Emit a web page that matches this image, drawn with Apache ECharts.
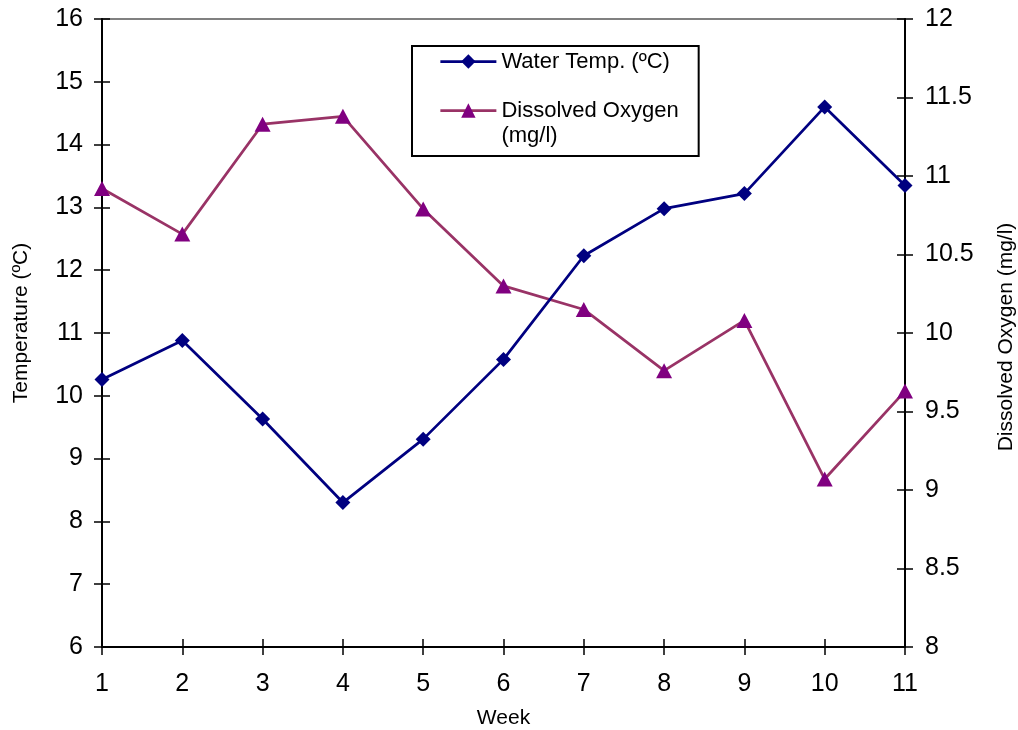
<!DOCTYPE html>
<html>
<head>
<meta charset="utf-8">
<title>Water Temperature and Dissolved Oxygen by Week</title>
<script src="https://cdn.jsdelivr.net/npm/echarts@6/dist/echarts.min.js"></script>
<style>
  html, body { margin: 0; padding: 0; background: #ffffff; }
  #chart { width: 1018px; height: 730px; }
</style>
</head>
<body>
<div id="chart"></div>
<script>
// Weekly readings
const weeks = ['1', '2', '3', '4', '5', '6', '7', '8', '9', '10', '11'];
const waterTemp = [10.26, 10.88, 9.63, 8.30, 9.31, 10.58, 12.23, 12.98, 13.22, 14.60, 13.35];
const dissolvedOxygen = [10.92, 10.63, 11.33, 11.38, 10.79, 10.30, 10.15, 9.76, 10.08, 9.07, 9.63];

// Axis tick values
const tempTicks = [6, 7, 8, 9, 10, 11, 12, 13, 14, 15, 16];
const oxygenTicks = [8, 8.5, 9, 9.5, 10, 10.5, 11, 11.5, 12];

const TEMP_NAME = 'Water Temp. (ºC)';
const DO_NAME = 'Dissolved Oxygen (mg/l)';

const FONT = 'Liberation Sans, Arial, Helvetica, sans-serif';
const tickLen = 8;
const TICK_FONT = 25;
const TITLE_FONT = 21;

function range(ticks) {
  return { min: ticks[0], max: ticks[ticks.length - 1], interval: ticks[1] - ticks[0] };
}

// Main value axis with outward ticks, labels and title
function valueAxis(ticks, position, name, nameGap, labelMargin, namePadding) {
  const r = range(ticks);
  return {
    type: 'value', position: position, min: r.min, max: r.max, interval: r.interval,
    name: name, nameLocation: 'middle', nameRotate: 90, nameGap: nameGap,
    nameTextStyle: { fontFamily: FONT, fontSize: TITLE_FONT, color: '#000', padding: namePadding },
    axisLine: { show: true, lineStyle: { color: '#000', width: 2 } },
    axisTick: { show: true, inside: false, length: tickLen, lineStyle: { color: '#000', width: 1.5 } },
    axisLabel: { fontFamily: FONT, fontSize: TICK_FONT, color: '#000', margin: labelMargin },
    splitLine: { show: false }
  };
}

// Companion axis that only adds the inward half of each tick
function innerTicks(ticks, position) {
  const r = range(ticks);
  return {
    type: 'value', position: position, min: r.min, max: r.max, interval: r.interval,
    axisLine: { show: false },
    axisTick: { show: true, inside: true, length: tickLen, lineStyle: { color: '#000', width: 1.5 } },
    axisLabel: { show: false },
    splitLine: { show: false }
  };
}

const chart = echarts.init(document.getElementById('chart'), null, { renderer: 'canvas' });

chart.setOption({
  backgroundColor: '#ffffff',
  animation: false,
  textStyle: { fontFamily: FONT },
  grid: {
    left: 102, right: 113, top: 19, bottom: 83,
    outerBoundsMode: 'none',
    containLabel: false,
    show: true, borderColor: '#808080', borderWidth: 2, backgroundColor: 'transparent'
  },
  legend: {
    orient: 'vertical',
    left: 412, top: 46,
    padding: [3, 20, 8, 27],
    itemGap: -1,
    itemWidth: 56, itemHeight: 18,
    borderColor: '#000', borderWidth: 2, backgroundColor: '#fff',
    lineStyle: { width: 2.75 },
    textStyle: { fontFamily: FONT, fontSize: 22, color: '#000', lineHeight: 25 },
    data: [TEMP_NAME, DO_NAME],
    formatter: function (name) {
      return name === DO_NAME ? '\nDissolved Oxygen\n(mg/l)' : name;
    }
  },
  xAxis: [
    {
      type: 'category', data: weeks, boundaryGap: false, position: 'bottom',
      name: 'Week', nameLocation: 'middle', nameGap: 61,
      nameTextStyle: { fontFamily: FONT, fontSize: TITLE_FONT, color: '#000' },
      axisLine: { show: true, lineStyle: { color: '#000', width: 2 } },
      axisTick: { show: true, inside: false, length: tickLen, lineStyle: { color: '#000', width: 1.5 } },
      axisLabel: { fontFamily: FONT, fontSize: TICK_FONT, color: '#000', margin: 25, interval: 0 },
      splitLine: { show: false }
    },
    {
      type: 'category', data: weeks, boundaryGap: false, position: 'bottom',
      axisLine: { show: false },
      axisTick: { show: true, inside: true, length: tickLen, lineStyle: { color: '#000', width: 1.5 } },
      axisLabel: { show: false },
      splitLine: { show: false }
    }
  ],
  yAxis: [
    valueAxis(tempTicks, 'left', 'Temperature (ºC)', 70, 19, [0, 0, 0, 20]),
    valueAxis(oxygenTicks, 'right', 'Dissolved Oxygen (mg/l)', 91, 20, [0, 8, 0, 0]),
    innerTicks(tempTicks, 'left'),
    innerTicks(oxygenTicks, 'right')
  ],
  series: [
    {
      name: TEMP_NAME, type: 'line', xAxisIndex: 0, yAxisIndex: 0,
      data: waterTemp,
      symbol: 'diamond', symbolSize: 15,
      lineStyle: { color: '#000080', width: 2.75 },
      itemStyle: { color: '#000080' },
      z: 3
    },
    {
      name: DO_NAME, type: 'line', xAxisIndex: 0, yAxisIndex: 1,
      data: dissolvedOxygen,
      symbol: 'triangle', symbolSize: [16, 15],
      lineStyle: { color: '#993366', width: 2.75 },
      itemStyle: { color: '#800080' },
      z: 2
    }
  ]
});
</script>
</body>
</html>
